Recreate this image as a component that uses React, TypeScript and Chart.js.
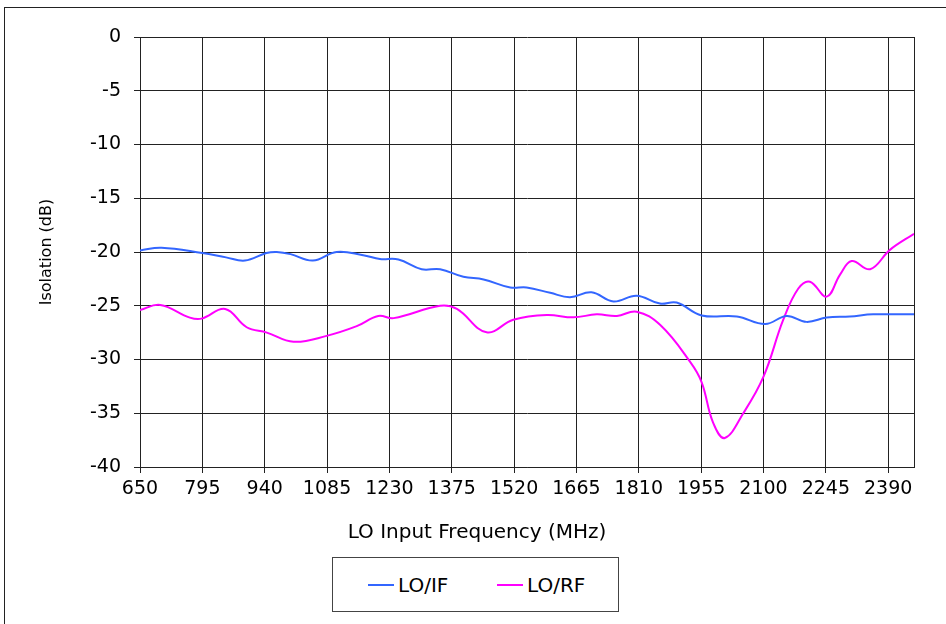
import React, { useEffect, useRef } from "react";
import { Chart, registerables } from "chart.js";

Chart.register(...registerables);

// LO input frequency tick labels (MHz)
const xTickLabels = [650, 795, 940, 1085, 1230, 1375, 1520, 1665, 1810, 1955, 2100, 2245, 2390];
const xMin = 650;
const xMax = 2450;
const yMin = -40;
const yMax = 0;

// LO/IF isolation (dB)
const ifFreq = [650, 700, 795, 850, 894, 944, 968, 1000, 1052, 1107, 1169, 1208, 1251, 1305, 1348, 1402, 1449, 1511, 1549, 1604, 1650, 1700, 1751, 1805, 1859, 1898, 1956, 2038, 2104, 2154, 2200, 2247, 2301, 2355, 2450];
const ifIso = [-19.85, -19.6, -20.1, -20.5, -20.8, -20.1, -20.0, -20.2, -20.8, -20.0, -20.3, -20.65, -20.7, -21.6, -21.6, -22.3, -22.55, -23.3, -23.3, -23.8, -24.2, -23.75, -24.6, -24.06, -24.8, -24.7, -25.9, -26.0, -26.7, -25.95, -26.5, -26.1, -26.0, -25.8, -25.8];

// LO/RF isolation (dB)
const rfFreq = [650, 697, 766, 793, 848, 898, 945, 1007, 1084, 1154, 1204, 1240, 1348, 1387, 1456, 1518, 1596, 1658, 1712, 1759, 1805, 1860, 1929, 1956, 1983, 2010, 2053, 2100, 2146, 2181, 2208, 2247, 2278, 2305, 2348, 2394, 2450];
const rfIso = [-25.4, -24.93, -26.1, -26.2, -25.3, -27.0, -27.5, -28.35, -27.8, -26.9, -25.95, -26.15, -25.0, -25.3, -27.47, -26.3, -25.86, -26.08, -25.8, -25.95, -25.55, -26.8, -30.2, -32.1, -35.9, -37.3, -35.0, -31.6, -26.3, -23.4, -22.76, -24.15, -22.1, -20.84, -21.6, -19.8, -18.3];

const X_TITLE = "LO Input Frequency (MHz)";
const Y_TITLE = "Isolation (dB)";

const FONT = "'DejaVu Sans', Verdana, sans-serif";
const GRID = "#222";
const IF_COLOR = "#3366FF";
const RF_COLOR = "#FF00FF";

const rightEdge = {
  id: "rightEdge",
  beforeDatasetsDraw(chart: any) {
    const { ctx, chartArea } = chart;
    ctx.save();
    ctx.strokeStyle = GRID;
    ctx.lineWidth = 1;
    const x = Math.round(chartArea.right) + 0.5;
    ctx.beginPath();
    ctx.moveTo(x, chartArea.top);
    ctx.lineTo(x, chartArea.bottom);
    ctx.stroke();
    ctx.restore();
  },
};

export default function App() {
  const ref = useRef<HTMLCanvasElement | null>(null);

  useEffect(() => {
    if (!ref.current) return;
    const chart = new Chart(ref.current, {
      type: "line",
      data: {
        datasets: [
          {
            label: "LO/IF",
            data: ifFreq.map((f, i) => ({ x: f, y: ifIso[i] })),
            borderColor: IF_COLOR,
            backgroundColor: IF_COLOR,
            borderWidth: 2,
            pointRadius: 0,
            tension: 0.4,
            fill: false,
          },
          {
            label: "LO/RF",
            data: rfFreq.map((f, i) => ({ x: f, y: rfIso[i] })),
            borderColor: RF_COLOR,
            backgroundColor: RF_COLOR,
            borderWidth: 2,
            pointRadius: 0,
            tension: 0.4,
            fill: false,
          },
        ],
      },
      options: {
        responsive: false,
        animation: false,
        events: [],
        layout: { padding: { left: 0, top: 37, right: 32, bottom: 0 } },
        plugins: { legend: { display: false }, tooltip: { enabled: false } },
        scales: {
          x: {
            type: "linear",
            min: xMin,
            max: xMax,
            afterBuildTicks: (s: any) => {
              s.ticks = xTickLabels.map((v) => ({ value: v }));
            },
            afterFit: (s: any) => {
              s.height = 157;
            },
            ticks: {
              color: "#000",
              font: { family: FONT, size: 19 },
              padding: 5,
              maxRotation: 0,
              autoSkip: false,
              callback: (v: any) => String(v),
            },
            grid: { color: GRID, lineWidth: 1, tickLength: 6, drawTicks: true },
            border: { color: GRID, width: 1 },
            title: { display: false },
          },
          y: {
            min: yMin,
            max: yMax,
            afterFit: (s: any) => {
              s.width = 140;
            },
            ticks: {
              stepSize: 5,
              color: "#000",
              font: { family: FONT, size: 19 },
              padding: 13,
            },
            grid: { color: GRID, lineWidth: 1, tickLength: 6, drawTicks: true },
            border: { color: GRID, width: 1 },
            title: {
              display: true,
              text: Y_TITLE,
              color: "#000",
              font: { family: FONT, size: 16 },
              padding: { top: 37, bottom: 0 },
            },
          },
        },
      },
      plugins: [rightEdge],
    });
    return () => chart.destroy();
  }, []);

  const legendItem = (color: string, label: string, left: number) => (
    <div style={{ position: "absolute", left, top: 14, display: "flex", alignItems: "center", height: 26 }}>
      <div style={{ width: 26, height: 2, background: color }} />
      <span style={{ marginLeft: 4, fontFamily: FONT, fontSize: 20, color: "#000", lineHeight: "26px" }}>{label}</span>
    </div>
  );

  return (
    <div style={{ position: "fixed", left: 0, top: 0, width: 946, height: 624, overflow: "hidden", background: "#fff" }}>
      <div
        style={{
          position: "absolute",
          left: 4,
          top: 7,
          width: 950,
          height: 630,
          borderLeft: "1px solid #222",
          borderTop: "1px solid #222",
        }}
      />
      <canvas ref={ref} width={946} height={624} style={{ position: "absolute", left: 0, top: 0, display: "block" }} />
      <div
        style={{
          position: "absolute",
          left: 4,
          top: 519,
          width: 946,
          textAlign: "center",
          fontFamily: FONT,
          fontSize: 20,
          lineHeight: "24px",
          color: "#000",
        }}
      >
        {X_TITLE}
      </div>
      <div
        style={{
          position: "absolute",
          left: 332,
          top: 557,
          width: 285,
          height: 53,
          border: "1px solid #444",
          background: "#fff",
        }}
      >
        {legendItem(IF_COLOR, "LO/IF", 35)}
        {legendItem(RF_COLOR, "LO/RF", 164)}
      </div>
    </div>
  );
}
